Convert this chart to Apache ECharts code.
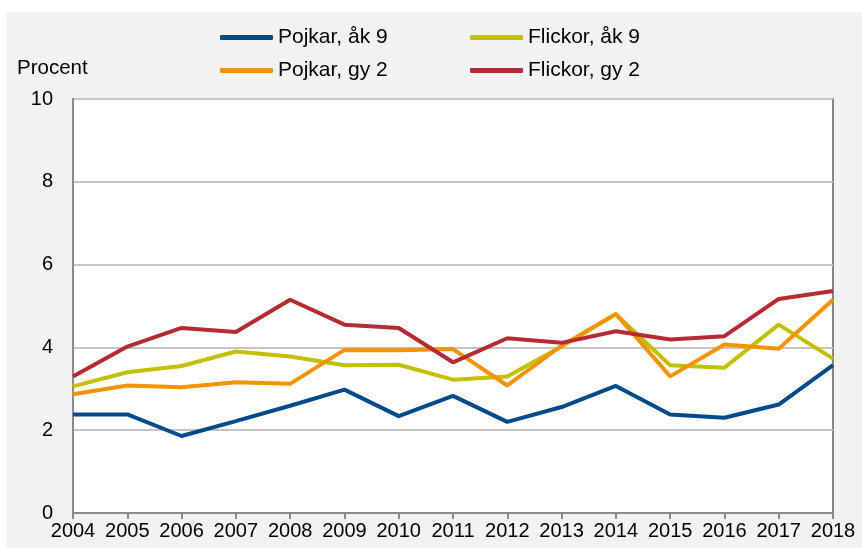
<!DOCTYPE html>
<html><head><meta charset="utf-8">
<script src="https://cdn.jsdelivr.net/npm/echarts@6/dist/echarts.min.js"></script>
<style>html,body{margin:0;padding:0;background:#fff}#c{width:862px;height:548px}</style>
</head><body><div id="c"></div>
<script>
var years = ['2004','2005','2006','2007','2008','2009','2010','2011','2012','2013','2014','2015','2016','2017','2018'];
var pojkarAk9 = [2.38,2.38,1.86,2.22,2.59,2.98,2.34,2.83,2.20,2.56,3.07,2.38,2.30,2.62,3.57];
var flickorAk9 = [3.06,3.40,3.55,3.90,3.78,3.57,3.58,3.22,3.30,4.02,4.80,3.57,3.51,4.55,3.73];
var pojkarGy2 = [2.87,3.08,3.04,3.16,3.12,3.94,3.93,3.96,3.08,4.04,4.81,3.30,4.07,3.97,5.15];
var flickorGy2 = [3.30,4.02,4.47,4.37,5.15,4.55,4.47,3.64,4.22,4.11,4.39,4.19,4.27,5.17,5.36];
var yTicks = [0,2,4,6,8,10];

var names = ['Pojkar, åk 9','Flickor, åk 9','Pojkar, gy 2','Flickor, gy 2'];
var colors = ['#004a8c','#c2c000','#f39300','#b52b33'];
var dataSets = [pojkarAk9, flickorAk9, pojkarGy2, flickorGy2];
var font = 'Arial, "Liberation Sans", sans-serif';
var legendPos = [[220,27],[470,27],[220,60],[470,60]];

var chart = echarts.init(document.getElementById('c'));
chart.setOption({
  animation:false,
  backgroundColor:'#ffffff',
  graphic:[
    {type:'rect', z:-100, shape:{x:6,y:12,width:856,height:536}, style:{fill:'#f2f2f2'}},
    {type:'text', left:17, top:58, style:{text:'Procent', font:'20.5px '+font, fill:'#000'}}
  ],
  legend: names.map(function(n,i){return {
    data:[n], left:legendPos[i][0], top:legendPos[i][1], icon:'roundRect',
    itemWidth:53, itemHeight:5, itemGap:0, padding:0,
    textStyle:{fontSize:21, fontFamily:font, color:'#000', padding:[0,0,0,0]}
  };}),
  grid:{left:73, right:29, top:99, bottom:35, show:true, backgroundColor:'#fff', borderColor:'#858585', borderWidth:2},
  xAxis:{type:'category', data:years, boundaryGap:false,
    axisLine:{lineStyle:{color:'#8a8a8a', width:2}},
    axisTick:{show:true, length:6, alignWithLabel:true, lineStyle:{color:'#8a8a8a', width:2}},
    axisLabel:{interval:0, margin:8, fontSize:20, fontFamily:font, color:'#000'}},
  yAxis:{type:'value', min:0, max:10, interval:2,
    axisLine:{show:true, lineStyle:{color:'#8a8a8a', width:2}},
    axisTick:{show:false},
    axisLabel:{margin:20, fontSize:20, fontFamily:font, color:'#000',
      formatter:function(v){return yTicks.indexOf(v)>=0 ? String(v) : '';}},
    splitLine:{lineStyle:{color:'#c4c4c4', width:2}}},
  series: names.map(function(n,i){return {
    name:n, type:'line', data:dataSets[i], symbol:'none', color:colors[i],
    lineStyle:{width:4, color:colors[i]}, itemStyle:{color:colors[i]}
  };})
});
</script></body></html>
